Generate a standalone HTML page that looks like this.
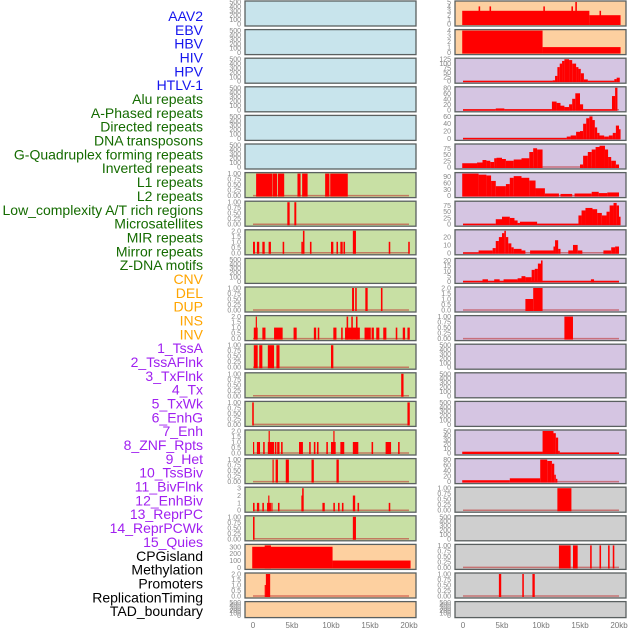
<!DOCTYPE html>
<html><head><meta charset="utf-8"><style>
html,body{margin:0;padding:0;background:#fff;width:630px;height:630px;overflow:hidden}
svg{display:block;font-family:"Liberation Sans",sans-serif}
</style></head><body>
<svg id="chart" width="630" height="630"></svg>
<script>
const labels=["AAV2","EBV","HBV","HIV","HPV","HTLV-1","Alu repeats","A-Phased repeats","Directed repeats","DNA transposons","G-Quadruplex forming repeats","Inverted repeats","L1 repeats","L2 repeats","Low_complexity A/T rich regions","Microsatellites","MIR repeats","Mirror repeats","Z-DNA motifs","CNV","DEL","DUP","INS","INV","1_TssA","2_TssAFlnk","3_TxFlnk","4_Tx","5_TxWk","6_EnhG","7_Enh","8_ZNF_Rpts","9_Het","10_TssBiv","11_BivFlnk","12_EnhBiv","13_ReprPC","14_ReprPCWk","15_Quies","CPGisland","Methylation","Promoters","ReplicationTiming","TAD_boundary"];
const labelGroups=[6,13,5,15,5];
const groupColors=["#1515ee","#146b00","#ffa500","#a020f0","#000"];
const xTicks=[0,5,10,15,20];
const xTickLabels=["0","5kb","10kb","15kb","20kb"];
const E=[0,100,200,300,400,500];
const leftBg=["#c8e4ec","#c8e4ec","#c8e4ec","#c8e4ec","#c8e4ec","#c8e4ec","#c8e0a4","#c8e0a4","#c8e0a4","#c8e0a4","#c8e0a4","#c8e0a4","#c8e0a4","#c8e0a4","#c8e0a4","#c8e0a4","#c8e0a4","#c8e0a4","#c8e0a4","#fdd0a0","#fdd0a0","#fdd0a0"];
const leftTicks=[E,E,E,E,E,E,[0,0.25,0.5,0.75,1],[0,0.25,0.5,0.75,1],[0,0.5,1,1.5,2],E,[0,0.25,0.5,0.75,1],[0,0.5,1,1.5,2],[0,0.25,0.5,0.75,1],[0,0.25,0.5,0.75,1],[0,0.25,0.5,0.75,1],[0,0.5,1,1.5,2],[0,0.25,0.5,0.75,1],[0,1,2,3],[0,0.25,0.5,0.75,1],[0,100,200,300],[0,0.5,1,1.5,2],E];
const leftMax=[500,500,500,500,500,500,1,1,2,500,1,2,1,1,1,2,1,3,1,320,2,500];
const leftSegs=[[],[],[],[],[],[],
[[0.4,2.5,1],[2.55,3.1,1],[3.2,4.0,1],[5.7,6.1,1],[6.3,7.0,1],[9.25,9.8,1],[9.9,12.15,1]],
[[4.4,4.7,1],[5.3,5.55,1]],
[[0,0.25,1],[0.5,0.8,1],[1.2,1.5,1],[2.0,2.3,1],[3.8,4.0,1],[6.2,6.4,1],[6.4,6.6,2],[7.3,7.5,1],[10.0,10.3,1],[10.7,10.9,1],[11.2,11.5,1],[11.6,11.8,1],[12.8,13.2,2],[17.4,17.6,1],[19.9,20.1,1]],
[],
[[12.7,12.95,1],[13.1,13.3,1],[14.4,14.7,1],[16.4,16.6,1]],
[[0.1,0.6,1],[0.35,0.45,2],[1.2,1.6,1],[2.7,3.8,1],[5.2,5.6,1],[7.8,8.1,1],[8.3,8.5,1],[10.3,10.7,1],[11.3,11.5,1],[11.8,13.7,1],[12.0,12.2,2],[12.6,12.8,2],[13.2,13.4,2],[14.3,15.1,1],[15.2,15.5,1],[15.8,16.2,1],[16.7,17.1,1],[18.3,18.5,1],[19.2,19.5,1],[19.8,20.1,1]],
[[0.1,0.6,1],[0.8,1.2,1],[1.9,2.7,1],[3.0,3.4,1],[10.0,10.3,1]],
[[19.0,19.3,1]],
[[-0.1,0.1,1],[19.8,20.1,1]],
[[0,0.15,1],[0.5,0.7,1],[0.7,0.9,1],[1.3,1.5,1],[1.9,2.7,1],[2.0,2.1,2],[2.8,3.0,1],[3.1,3.4,1],[3.6,3.8,1],[5.9,6.4,1],[7.2,7.4,1],[7.8,8.0,1],[8.2,8.4,1],[9.4,9.6,1],[10.0,10.6,1],[10.3,10.4,2],[11.2,11.7,1],[12.8,13.5,1],[15.2,15.4,1],[17.0,17.7,1],[18.6,18.8,1]],
[[2.5,2.65,1],[2.9,3.2,1],[4.2,4.6,1],[7.5,7.8,1],[10.7,11.0,1]],
[[0,0.2,1],[0.5,0.8,1],[1.2,1.4,1],[1.8,2.3,1],[1.95,2.1,2],[2.35,2.5,1],[3.2,3.4,1],[6.2,6.3,2],[6.3,6.5,3],[8.9,9.2,1],[10.3,10.5,1],[10.9,11.1,1],[11.4,11.6,1],[12.8,13.1,2],[13.4,13.6,1],[17.4,17.6,1]],
[[0,0.2,1],[12.8,13.2,1]],
[[-0.1,10.2,300],[1.5,2.3,320],[10.2,20.2,100]],
[[1.5,1.65,1],[1.65,2.2,2]],
[]];
const rightBg=["#fdd0a0","#fdd0a0","#d5c5e2","#d5c5e2","#d5c5e2","#d5c5e2","#d5c5e2","#d5c5e2","#d5c5e2","#d5c5e2","#d5c5e2","#d5c5e2","#d5c5e2","#d5c5e2","#d5c5e2","#d5c5e2","#d5c5e2","#cfcfcf","#cfcfcf","#cfcfcf","#cfcfcf","#cfcfcf"];
const rightTicks=[[0,1,2,3,4,5],[0,1,2,3,4],[0,25,50,75,100,125],[0,20,40,60,80],[0,20,40,60],[0,25,50,75],[0,30,60,90],[0,25,50,75],[0,10,20],[0,5,10,15,20],[0,0.5,1,1.5,2],[0,0.25,0.5,0.75,1],E,E,E,[0,10,20,30,40,50],[0,20,40,60,80],[0,0.25,0.5,0.75,1],E,[0,0.25,0.5,0.75,1],[0,0.25,0.5,0.75,1],E];
const rightMax=[5,4,125,80,60,88,105,88,28,21,2,1,500,500,500,50,80,1,500,1,1,500];
const rightSegs=[
[[-0.1,16.2,3],[16.2,20.2,2],[2.0,2.2,4],[3.4,3.6,4],[10.3,10.5,4],[13.9,14.1,4],[14.4,14.6,5],[17.5,17.7,3]],
[[-0.1,10.2,4],[10.2,20.2,1]],
[[0,11.5,2],[11.5,11.8,5],[11.8,12.1,30],[12.1,12.4,80],[12.4,12.7,100],[12.7,13.0,115],[13.0,13.6,125],[13.6,14.0,120],[14.0,14.5,100],[14.5,14.8,80],[14.8,15.1,70],[15.1,15.5,45],[15.5,16.0,10],[16,19.4,2],[19.4,19.7,12],[19.7,20.1,20]],
[[0,4.2,2],[4.2,5.3,5],[5.3,11.4,2],[11.4,12.0,30],[12.0,12.5,25],[12.5,13.0,15],[13.0,13.6,10],[13.6,14.0,20],[14.0,14.4,40],[14.4,15.0,60],[15.0,15.4,20],[15.4,19.1,2],[19.1,19.5,50],[19.5,19.8,80]],
[[0,13.3,1],[13.3,13.8,5],[13.8,14.5,8],[14.5,15.0,18],[15.0,15.4,20],[15.4,15.8,40],[15.8,16.2,55],[16.2,16.6,60],[16.6,16.9,50],[16.9,17.2,30],[17.2,17.5,15],[17.5,18.1,8],[18.1,18.7,5],[18.7,19.2,8],[19.2,19.6,15],[19.6,20.0,35],[20.0,20.2,25]],
[[-0.1,1.8,15],[1.8,2.5,18],[2.5,3.0,28],[3.0,3.5,25],[3.5,4.0,20],[4.0,4.3,35],[4.3,5.0,37],[5.0,5.5,32],[5.5,6.5,25],[6.5,7.5,30],[7.5,8.5,35],[8.5,9.0,60],[9.0,9.5,75],[9.5,10.2,70],[15.0,15.4,10],[15.4,16.0,45],[16.0,16.5,60],[16.5,17.0,70],[17.0,17.5,80],[17.5,18.2,85],[18.2,18.6,70],[18.6,19.0,40],[19.0,19.6,25],[19.6,20.0,10]],
[[-0.1,2.0,105],[2.0,3.0,100],[3.0,3.6,96],[3.6,4.2,70],[4.2,5.5,45],[5.5,6.0,55],[6.0,6.5,85],[6.5,7.5,93],[7.5,8.5,85],[8.5,9.3,72],[9.3,10.5,35],[10.5,12.3,10],[12.5,14.0,8],[14.3,16.5,10],[16.5,17.4,18],[17.4,18.5,12],[18.5,20.0,15]],
[[0,4.2,2],[4.2,5.0,20],[5.0,6.0,30],[6.0,6.6,25],[6.6,7.0,15],[7.0,7.3,5],[7.3,9.5,10],[9.5,14.8,2],[14.8,15.2,35],[15.2,15.7,55],[15.7,16.6,65],[16.6,17.2,60],[17.2,17.8,45],[17.8,18.4,35],[18.4,18.8,50],[18.8,19.3,75],[19.3,19.7,85],[19.7,20.0,75],[20.0,20.2,30]],
[[0,2.0,0.5],[2.0,3.8,3],[3.8,4.2,6],[4.2,4.6,15],[4.6,5.0,20],[5.0,5.3,25],[5.3,5.5,28],[5.5,5.8,20],[5.8,6.2,12],[6.2,6.5,7],[6.5,7.5,5],[7.5,8.0,3],[8.6,11.6,3],[11.6,11.8,8],[11.8,12.2,16],[12.2,12.5,5],[13.5,14.1,3],[14.1,14.7,10],[14.7,15.3,3],[18.0,19.0,3],[19.0,19.5,7],[19.5,20.0,8]],
[[0,20,0.5],[2.5,3.2,2],[4.0,4.7,2],[5.2,7.0,2],[7.0,7.5,3],[7.5,8.0,5],[8.0,8.8,4],[8.8,9.2,11],[9.2,9.6,12],[9.6,10.0,17],[10.0,10.2,20],[16.4,16.8,2]],
[[8.0,9.0,1],[9.0,10.2,2]],
[[13.0,14.1,1]],
[],[],[],
[[-0.1,10.2,3],[10.2,11.6,50],[11.6,11.9,45],[11.9,12.2,35],[12.2,12.4,5],[12.4,20.0,1]],
[[-0.1,6.0,5],[6.0,9.9,12],[9.9,10.8,80],[10.8,11.4,75],[11.4,11.7,65],[11.7,11.9,25],[11.9,12.1,10]],
[[12.1,13.9,1]],
[],
[[12.3,13.8,1],[14.1,14.7,1],[16.3,16.5,1],[17.5,17.7,1],[18.6,18.8,1],[19.2,19.4,1]],
[[4.6,4.9,1],[7.6,7.8,1],[8.9,9.2,1]],
[]];

const NS="http://www.w3.org/2000/svg";
const svg=document.getElementById('chart');
function mk(tag,attrs){const e=document.createElementNS(NS,tag);for(const k in attrs)e.setAttribute(k,attrs[k]);return e;}
function panelTop(i){return 1+i*28.6;}
function panelH(i){return i===21?16:25;}

let li=0;
labelGroups.forEach((n,g)=>{for(let k=0;k<n;k++){
  const t=mk('text',{x:203,y:16+li*13.84+5,'text-anchor':'end','font-size':14,fill:groupColors[g]});
  t.textContent=labels[li];
  
  
  svg.appendChild(t);li++;}});

function fmt(v,tk){
  if(tk[1]===0.25)return v.toFixed(2);
  if(tk[1]===0.5)return v.toFixed(1);
  return String(v);
}
function drawColumn(px,bgs,ticks,maxes,segs,col){
  const pw=171, x0=px+8, x1=px+164;
  const xs=kb=>x0+(kb/20)*(x1-x0);
  for(let i=0;i<bgs.length;i++){
    const top=panelTop(i),h=panelH(i);
    const g=mk('g',{});
    
    
    svg.appendChild(g);
    const r=mk('rect',{x:px,y:top,width:pw,height:h,fill:bgs[i],stroke:'#5a6060','stroke-width':1.3});
    
    
    g.appendChild(r);
    const yb=top+h-2, yt=top+1;
    const ys=v=>yb-(v/maxes[i])*(yb-yt);
    ticks[i].forEach(v=>{
      const t=mk('text',{x:px-4,y:ys(v)+2.5,'text-anchor':'end','font-size':7,fill:'#888'});
      t.textContent=fmt(v,ticks[i]);
      
      
      g.appendChild(t);
    });
    if(segs[i].length){
      const bl=mk('line',{x1:xs(0),x2:xs(20),y1:yb,y2:yb,stroke:'rgba(190,40,40,0.55)','stroke-width':1.5});
      
      
      g.appendChild(bl);
    }
    segs[i].forEach(s=>{
      const y=Math.max(yt,ys(s[2]));
      const b=mk('rect',{x:xs(s[0]),y:y,width:Math.max(1.2,xs(s[1])-xs(s[0])),height:yb+1-y,fill:'#ff0000'});
      
      
      g.appendChild(b);
    });
  }
  xTicks.forEach((v,k)=>{
    const t=mk('text',{x:xs(v),y:628,'text-anchor':'middle','font-size':8,fill:'#777'});
    t.textContent=xTickLabels[k];
    
    
    svg.appendChild(t);
  });
}
drawColumn(245,leftBg,leftTicks,leftMax,leftSegs,'left');
drawColumn(455,rightBg,rightTicks,rightMax,rightSegs,'right');
</script>
</body></html>
